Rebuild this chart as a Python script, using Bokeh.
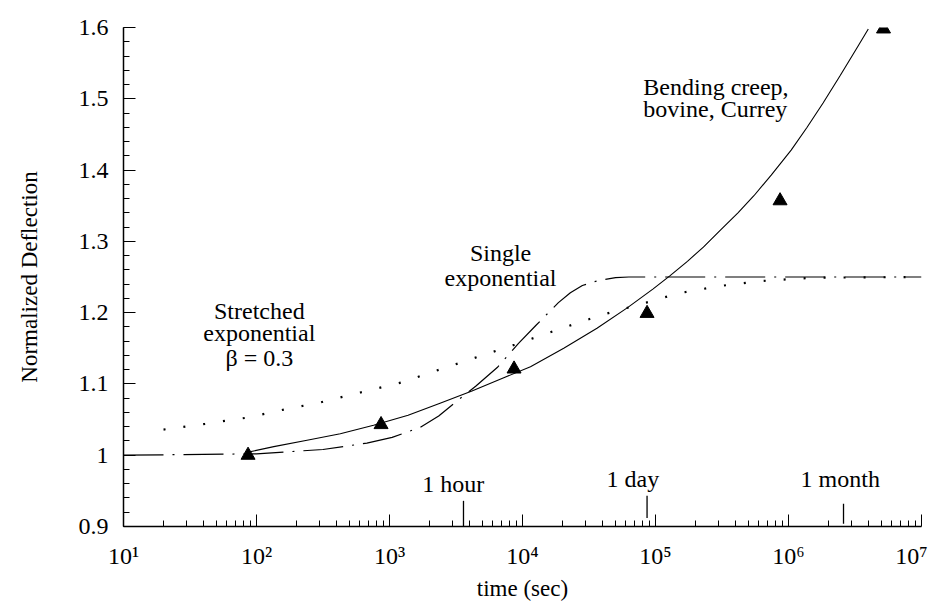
from bokeh.plotting import figure
from bokeh.models import FixedTicker, Label
from bokeh.embed import file_html
from bokeh.resources import INLINE
import numpy as np

# ---- data ----
creep_time_s = [86.4, 864, 8640, 86400, 864000, 5.18e6]
creep_defl = [1.000, 1.043, 1.121, 1.199, 1.357, 1.598]

fit_time_s = [85.1, 134.9, 239.9, 426.6, 758.6, 1380, 2399, 4169, 7079, 11482, 20417, 36308,
              61660, 95499, 128825, 173780, 229087, 309030, 416869, 549541, 741310,
              1047129, 1380384, 1819701, 2454709, 3311311, 3981072]
fit_defl = [1.004, 1.012, 1.021, 1.030, 1.042, 1.056, 1.073, 1.090, 1.108, 1.124, 1.150, 1.178,
            1.207, 1.233, 1.252, 1.272, 1.292, 1.316, 1.340, 1.364, 1.393,
            1.428, 1.460, 1.494, 1.533, 1.573, 1.598]

single_time_s = [10, 100, 316, 676, 1047, 1698, 2344, 3162, 4467, 6457, 9333, 12589, 18621,
                 22909, 28184, 33884, 39811, 50119, 63096, 1e5, 1e7]
single_defl = [1.000, 1.002, 1.008, 1.017, 1.025, 1.039, 1.055, 1.075, 1.097, 1.123, 1.157, 1.182,
               1.214, 1.228, 1.238, 1.243, 1.246, 1.249, 1.250, 1.250, 1.250]

stretch_time_s = [20, 41, 87, 151, 302, 603, 1230, 2042, 3981, 8710, 20417, 39811,
                  85114, 147911, 295121, 588844, 1513561, 1e7]
stretch_defl = [1.036, 1.044, 1.053, 1.063, 1.074, 1.088, 1.102, 1.116, 1.134, 1.155, 1.179, 1.197,
                1.214, 1.227, 1.237, 1.244, 1.249, 1.250]

y_ticks = [0.9, 1.0, 1.1, 1.2, 1.3, 1.4, 1.5, 1.6]
y_tick_labels = ["0.9", "1", "1.1", "1.2", "1.3", "1.4", "1.5", "1.6"]
x_ticks = [1e1, 1e2, 1e3, 1e4, 1e5, 1e6, 1e7]
x_tick_labels = ["10\u00b9", "10\u00b2", "10\u00b3", "10\u2074", "10\u2075", "10\u2076", "10\u2077\u2007"]

mark_time_s = [3600, 86400, 2.592e6]
mark_names = ["1 hour", "1 day", "1 month"]
mark_label_time_s = [3020, 67600, 2.45e6]
mark_label_defl = [0.960, 0.967, 0.967]
mark_tick_bottom = [0.9, 0.912, 0.904]
mark_tick_top = [0.936, 0.943, 0.932]

FONT = "Liberation Serif"

p = figure(width=939, height=604, x_axis_type="log", x_range=(10, 1e7), y_range=(0.9, 1.6),
           output_backend="svg", toolbar_location=None,
           min_border_left=123, min_border_right=18, min_border_top=27, min_border_bottom=78)
p.outline_line_color = None
p.xgrid.visible = False
p.ygrid.visible = False

# axes
minor_x = [m * 10 ** k for k in range(1, 7) for m in range(2, 10)]
p.xaxis.ticker = FixedTicker(ticks=x_ticks, minor_ticks=minor_x)
p.xaxis.major_label_overrides = {t: l for t, l in zip(x_ticks, x_tick_labels)}
minor_y = list(np.round(np.arange(0.9, 1.6001, 0.02), 2))
p.yaxis.ticker = FixedTicker(ticks=y_ticks, minor_ticks=minor_y)
p.yaxis.major_label_overrides = {t: l for t, l in zip(y_ticks, y_tick_labels)}

for ax in (p.xaxis[0], p.yaxis[0]):
    ax.axis_line_color = "black"
    ax.axis_line_width = 1.5
    ax.major_tick_line_color = "black"
    ax.minor_tick_line_color = "black"
    ax.major_tick_out = 0
    ax.minor_tick_out = 0
    ax.major_tick_in = 12
    ax.minor_tick_in = 6
    ax.major_label_text_font = FONT
    ax.major_label_text_font_size = "24px"
    ax.major_label_text_color = "black"
    ax.axis_label_text_font = FONT
    ax.axis_label_text_font_size = "23px"
    ax.axis_label_text_font_style = "normal"
    ax.axis_label_text_color = "black"

p.xaxis.axis_label = "time (sec)"
p.yaxis.axis_label = "Normalized Deflection"
p.xaxis.major_label_standoff = 16
p.xaxis.axis_label_standoff = 4
p.yaxis.major_label_standoff = 15
p.yaxis.axis_label_standoff = 34

# curves
p.line(stretch_time_s, stretch_defl, line_color="black", line_width=2.2, line_dash="2 18")
p.line(single_time_s, single_defl, line_color="black", line_width=1.2, line_dash="40 9 2 9")
p.line(fit_time_s, fit_defl, line_color="black", line_width=1.1)
p.scatter(creep_time_s, creep_defl, marker="triangle", size=14, fill_color="black", line_color="black")

# time markers
p.segment(x0=mark_time_s, y0=mark_tick_bottom, x1=mark_time_s, y1=mark_tick_top,
          line_color="black", line_width=1.3)
for xt, name, yl in zip(mark_label_time_s, mark_names, mark_label_defl):
    p.add_layout(Label(x=xt, y=yl, text=name, text_font=FONT, text_font_size="24px",
                       text_align="center", text_baseline="middle", text_color="black"))

def lab(x, y, t, align="center"):
    p.add_layout(Label(x=x, y=y, text=t, text_font=FONT, text_font_size="24px",
                       text_align=align, text_baseline="middle", text_color="black"))

lab(81000, 1.517, "Bending creep,", "left")
lab(81000, 1.486, "bovine, Currey", "left")
lab(6840, 1.284, "Single")
lab(6840, 1.249, "exponential")
lab(105, 1.203, "Stretched")
lab(105, 1.171, "exponential")
lab(105, 1.136, "\u03b2 = 0.3")

open("out.html", "w").write(file_html(p, INLINE))
